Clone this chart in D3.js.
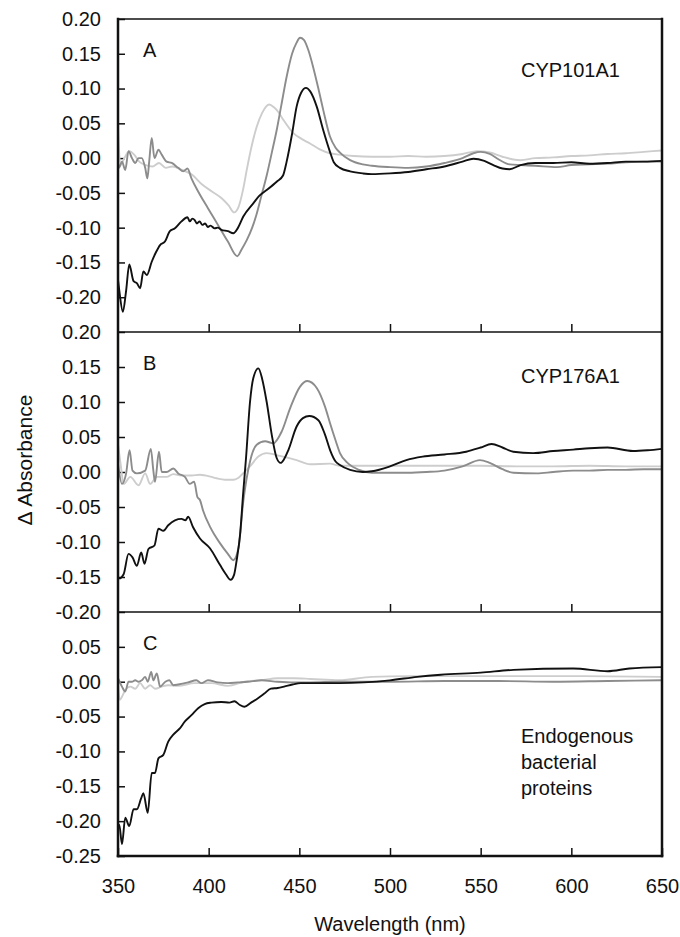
<!DOCTYPE html>
<html>
<head>
<meta charset="utf-8">
<script src="https://cdn.jsdelivr.net/npm/d3@7"></script>
<style>
  html, body { margin: 0; padding: 0; background: #fff; }
  svg { display: block; font-family: 'Liberation Sans', Arial, sans-serif; }
</style>
</head>
<body>
<svg id="chart" width="680" height="937"></svg>
<script>
// Wavelength (nm), delta absorbance pairs
const panelAblack = [
  [350, -0.175], [350.7, -0.190], [352.7, -0.221], [354.5, -0.190], [356.2, -0.153], [358.6, -0.177],
  [360.5, -0.180], [362.2, -0.187], [364, -0.163], [365.9, -0.168], [368.6, -0.149], [371, -0.135],
  [373.2, -0.125], [375.9, -0.120], [378.6, -0.105], [381.4, -0.101], [385, -0.091], [388.3, -0.085],
  [389.6, -0.091], [391, -0.087], [392.3, -0.089], [393.5, -0.094], [395, -0.091], [396.5, -0.096],
  [398, -0.094], [399.6, -0.099], [401, -0.097], [403.3, -0.101], [405, -0.100], [407, -0.103],
  [410.6, -0.105], [413.6, -0.108], [416, -0.101], [419.1, -0.084], [424.6, -0.065], [428, -0.054],
  [432, -0.046], [437.5, -0.034], [441, -0.025], [443, -0.005], [446, 0.035], [448.5, 0.074],
  [451, 0.094], [453.7, 0.101], [456, 0.096], [459.6, 0.074], [463.2, 0.040], [466.9, 0.009],
  [469, -0.006], [472.4, -0.014], [478, -0.019], [485, -0.022], [490, -0.023], [500, -0.022],
  [510, -0.020], [520, -0.016], [530, -0.012], [540, -0.005], [546, -0.001], [552, -0.004],
  [557, -0.010], [562, -0.015], [566, -0.016], [572, -0.010], [580, -0.007], [590, -0.007],
  [600, -0.006], [610, -0.008], [620, -0.007], [630, -0.005], [640, -0.005], [650, -0.004],
];
const panelAgray = [
  [350, -0.005], [350.5, -0.014], [352.2, -0.005], [354, -0.017], [355.8, 0.010], [357.7, 0.000],
  [359.5, -0.007], [361.3, 0.000], [363.1, 0.000], [365, -0.014], [366.2, -0.029], [367.2, -0.005],
  [368.6, 0.029], [370.1, 0.000], [372.3, 0.012], [374.1, 0.005], [376.8, -0.005], [379.6, -0.007],
  [383.2, -0.014], [386, -0.019], [388.3, -0.015], [390.5, -0.029], [394.2, -0.048], [399.6, -0.072],
  [405.1, -0.096], [410.6, -0.120], [415.8, -0.141], [418, -0.132], [421, -0.118], [424, -0.100],
  [426.5, -0.080], [429, -0.055], [432, -0.025], [435, 0.010], [437.5, 0.040], [440, 0.075],
  [443, 0.117], [446, 0.150], [448.5, 0.166], [450.4, 0.173], [452.5, 0.170], [455, 0.155],
  [457.7, 0.130], [460.5, 0.100], [463.2, 0.069], [466.9, 0.031], [470, 0.015], [472.4, 0.008],
  [478, -0.003], [485, -0.009], [490, -0.011], [500, -0.013], [510, -0.014], [520, -0.012],
  [530, -0.007], [540, 0.000], [546, 0.007], [550, 0.009], [555, 0.006], [560, -0.002],
  [566, -0.009], [572, -0.010], [580, -0.011], [592, -0.013], [600, -0.010], [610, -0.009],
  [620, -0.008], [630, -0.006], [640, -0.005], [650, -0.005],
];
const panelAlight = [
  [350, 0.045], [351.3, -0.010], [353.5, 0.000], [356.2, 0.010], [358.9, 0.005], [361.7, -0.005],
  [365.3, -0.010], [369, -0.012], [372.6, -0.007], [376.3, -0.014], [379.9, -0.012], [385.4, -0.017],
  [390.9, -0.024], [396.4, -0.038], [401.8, -0.048], [407.3, -0.058], [411, -0.068], [414, -0.078],
  [416.5, -0.070], [419, -0.045], [421, -0.017], [423.5, 0.015], [426.5, 0.045], [429.5, 0.065],
  [433.4, 0.077], [436, 0.073], [438.5, 0.066], [441.2, 0.055], [446.7, 0.036], [451, 0.028],
  [455.9, 0.021], [461, 0.013], [466.9, 0.007], [472, 0.005], [480, 0.003], [490, 0.002],
  [500, 0.002], [510, 0.003], [520, 0.002], [530, 0.003], [540, 0.006], [548, 0.010],
  [555, 0.008], [562, 0.002], [568, -0.002], [572, -0.003], [580, 0.000], [590, 0.001],
  [600, 0.003], [610, 0.004], [620, 0.006], [630, 0.007], [640, 0.009], [650, 0.011],
];

const panelBblack = [
  [350, -0.150], [350.7, -0.152], [353.1, -0.146], [355.8, -0.117], [358, -0.122], [360.4, -0.134],
  [362.8, -0.115], [364.6, -0.131], [366.8, -0.110], [370.1, -0.105], [372.3, -0.081], [375, -0.084],
  [377.7, -0.076], [381.4, -0.069], [385, -0.067], [387.2, -0.069], [388.7, -0.064], [391.4, -0.079],
  [395.2, -0.095], [400.7, -0.109], [406.3, -0.133], [409.5, -0.146], [412.1, -0.154], [414, -0.147],
  [415.5, -0.125], [417.3, -0.090], [419.1, -0.028], [420.6, 0.020], [422.8, 0.100], [424.6, 0.134],
  [427.4, 0.148], [429.5, 0.133], [432, 0.100], [434.8, 0.053], [437.5, 0.020], [439.7, 0.013],
  [441.5, 0.018], [443.9, 0.031], [448.5, 0.065], [452, 0.077], [455.5, 0.080], [460.5, 0.074],
  [464.2, 0.053], [467, 0.031], [470, 0.015], [472.4, 0.010], [478, 0.003], [485, 0.000],
  [490, 0.001], [500, 0.008], [509, 0.017], [518, 0.022], [530, 0.025], [542, 0.029],
  [550, 0.035], [556, 0.040], [562, 0.035], [568, 0.029], [579, 0.027], [590, 0.030],
  [601, 0.032], [610, 0.034], [620, 0.035], [634, 0.030], [642, 0.031], [650, 0.033],
];
const panelBgray = [
  [350, 0.012], [352.2, -0.017], [354.4, -0.003], [356.4, 0.031], [358, 0.002], [360.4, -0.002],
  [365, 0.002], [368.1, 0.033], [369.5, 0.002], [370.4, -0.014], [372.6, 0.029], [374.1, 0.000],
  [376.8, 0.000], [380.5, 0.005], [383.2, -0.002], [386.9, -0.007], [389.6, -0.017], [392, -0.014],
  [393.8, -0.036], [395.2, -0.040], [396.9, -0.055], [400.7, -0.078], [403.3, -0.090], [406.3, -0.102],
  [410.6, -0.117], [413.6, -0.126], [416.4, -0.109], [419.1, -0.042], [422.8, 0.015], [426.5, 0.039],
  [431.1, 0.044], [435.6, 0.041], [440.3, 0.058], [444.9, 0.091], [450.4, 0.122], [454.4, 0.130],
  [459.6, 0.120], [464.2, 0.093], [466.9, 0.070], [470, 0.045], [472.4, 0.027], [477, 0.012],
  [483, 0.003], [490, -0.001], [500, -0.001], [510, -0.001], [520, 0.000], [530, 0.002],
  [540, 0.008], [549.6, 0.017], [555, 0.013], [562, 0.004], [568, -0.001], [581, -0.002],
  [590, 0.000], [601, 0.002], [610, 0.002], [620, 0.003], [630, 0.003], [640, 0.004], [650, 0.004],
];
const panelBlight = [
  [350, 0.040], [351.5, 0.010], [353.1, -0.017], [356.8, -0.007], [361.3, -0.019], [365, -0.002],
  [367.7, -0.017], [371.4, -0.007], [374.1, -0.007], [376.8, -0.007], [380.5, -0.003], [385, -0.005],
  [390.5, -0.005], [395.2, -0.004], [401.5, -0.007], [404.4, -0.009], [409, -0.011], [413.6, -0.011],
  [416, -0.009], [418.2, -0.004], [422.8, 0.008], [427.4, 0.022], [432, 0.027], [439.3, 0.023],
  [448.5, 0.017], [455.9, 0.011], [466.9, 0.012], [472, 0.009], [490, 0.009], [510, 0.009],
  [530, 0.009], [550, 0.009], [570, 0.008], [590, 0.008], [610, 0.009], [630, 0.008], [650, 0.008],
];

const panelCblack = [
  [350, -0.205], [350.7, -0.205], [352.2, -0.233], [354, -0.195], [356.2, -0.207], [358.6, -0.183],
  [360.4, -0.183], [362.8, -0.167], [364, -0.160], [366.4, -0.188], [368.6, -0.131], [370.4, -0.131],
  [372.3, -0.110], [375, -0.105], [377.7, -0.086], [380.5, -0.076], [384.1, -0.067], [386.9, -0.057],
  [390.5, -0.048], [394.2, -0.038], [397.8, -0.032], [401.5, -0.030], [406.9, -0.029], [411.5, -0.030],
  [414.2, -0.028], [417, -0.033], [419.7, -0.036], [423.4, -0.030], [427, -0.024], [430.7, -0.017],
  [434.3, -0.010], [438, -0.009], [441.6, -0.007], [446.2, -0.004], [450.7, -0.002], [456.2, -0.002],
  [472, -0.002], [500, 0.002], [515, 0.007], [528, 0.010], [550, 0.013], [568, 0.017],
  [601, 0.019], [620, 0.015], [632, 0.019], [650, 0.021],
];
const panelCgray = [
  [350, 0.005], [352.2, -0.007], [354, -0.014], [355.8, 0.000], [357.7, 0.000], [359.5, 0.002],
  [361.3, 0.000], [363.1, 0.002], [365, 0.007], [366.4, 0.000], [368.3, 0.014], [369.5, 0.002],
  [371.4, 0.012], [373.2, -0.007], [376.1, 0.000], [378.3, 0.002], [380.5, -0.005], [383.2, -0.004],
  [388.7, -0.001], [393.2, 0.002], [396, -0.002], [399.6, 0.002], [405.1, -0.001], [410.6, -0.002],
  [416, -0.001], [421.5, 0.000], [429, 0.002], [438, 0.000], [447, -0.001], [456, -0.001],
  [472, 0.000], [500, 0.000], [530, 0.001], [560, 0.001], [590, 0.000], [620, 0.001], [650, 0.002],
];
const panelClight = [
  [350, -0.002], [351, -0.026], [352.5, -0.020], [354, -0.012], [356.8, -0.007], [359.5, -0.010],
  [362.2, -0.002], [365, -0.010], [367.7, -0.005], [370.4, -0.010], [374.1, -0.007], [377.7, -0.005],
  [383.2, -0.006], [392.3, -0.002], [401.5, -0.002], [410.6, -0.006], [419.7, 0.000], [428.8, 0.002],
  [438, 0.005], [447, 0.005], [456.2, 0.004], [472, 0.002], [490, 0.007], [510, 0.008],
  [550, 0.008], [600, 0.008], [650, 0.007],
];

// Axis settings
const xDomain = [350, 650];
const xTicks = [350, 400, 450, 500, 550, 600, 650];
const yTicksA = [0.20, 0.15, 0.10, 0.05, 0.00, -0.05, -0.10, -0.15, -0.20];
const yTicksB = [0.20, 0.15, 0.10, 0.05, 0.00, -0.05, -0.10, -0.15, -0.20];
const yTicksC = [0.05, 0.00, -0.05, -0.10, -0.15, -0.20, -0.25];

const svg = d3.select('#chart');
const font = 20;

const x = d3.scaleLinear().domain(xDomain).range([118, 662]);

// Panels stacked top to bottom, each with its own y range
const panels = [
  { letter: 'A', label: ['CYP101A1'], domain: [-0.25, 0.20], range: [332, 19], ticks: yTicksA,
    series: [panelAlight, panelAgray, panelAblack], labelY: 77 },
  { letter: 'B', label: ['CYP176A1'], domain: [-0.20, 0.20], range: [612, 332], ticks: yTicksB,
    series: [panelBlight, panelBgray, panelBblack], labelY: 383 },
  { letter: 'C', label: ['Endogenous', 'bacterial', 'proteins'], domain: [-0.25, 0.10], range: [856, 612],
    ticks: yTicksC, series: [panelClight, panelCgray, panelCblack], labelY: 743 },
];

const colors = ['#cdcdcd', '#8c8c8c', '#111111'];

panels.forEach((p, i) => {
  const y = d3.scaleLinear().domain(p.domain).range(p.range);
  const g = svg.append('g').attr('class', `panel-${p.letter}`);

  // y axis, ticks pointing in
  const yAxis = g.append('g')
    .attr('transform', `translate(${x(xDomain[0])},0)`)
    .call(d3.axisLeft(y).tickValues(p.ticks).tickSizeInner(-7).tickSizeOuter(0)
      .tickPadding(17).tickFormat((d) => d.toFixed(2)));
  yAxis.select('.domain').remove();
  yAxis.selectAll('line').attr('stroke', '#111').attr('stroke-width', 1.5);
  yAxis.selectAll('text').attr('font-size', font).attr('fill', '#111')
    .attr('font-family', "'Liberation Sans', Arial, sans-serif");

  // x axis on the bottom of every panel, labels only on the last
  const last = i === panels.length - 1;
  const xAxis = g.append('g')
    .attr('transform', `translate(0,${y(p.domain[0])})`)
    .call(d3.axisBottom(x).tickValues(last ? xTicks : xTicks.slice(1, -1))
      .tickSizeInner(-8).tickSizeOuter(0).tickPadding(23)
      .tickFormat(last ? d3.format('d') : ''));
  xAxis.select('.domain').remove();
  xAxis.selectAll('line').attr('stroke', '#111').attr('stroke-width', 1.5);
  xAxis.selectAll('text').attr('font-size', font).attr('fill', '#111')
    .attr('font-family', "'Liberation Sans', Arial, sans-serif");

  // spectra
  const line = d3.line()
    .x((d) => x(d[0]))
    .y((d) => y(d[1]))
    .curve(d3.curveMonotoneX);

  g.append('g')
    .attr('fill', 'none')
    .selectAll('path')
    .data(p.series)
    .join('path')
    .attr('d', line)
    .attr('stroke', (d, j) => colors[j])
    .attr('stroke-width', 1.9)
    .attr('stroke-linejoin', 'round');

  // horizontal frame line on top of the panel
  g.append('line')
    .attr('x1', x(xDomain[0])).attr('x2', x(xDomain[1]))
    .attr('y1', y(p.domain[1])).attr('y2', y(p.domain[1]))
    .attr('stroke', '#111').attr('stroke-width', 1.6);

  // panel letter and name
  g.append('text')
    .attr('x', 143).attr('y', y(p.domain[1]) + 38)
    .attr('font-size', font).attr('fill', '#111')
    .text(p.letter);

  g.append('text')
    .attr('font-size', font).attr('fill', '#111')
    .selectAll('tspan')
    .data(p.label)
    .join('tspan')
    .attr('x', 521)
    .attr('y', (d, j) => p.labelY + j * 26)
    .text((d) => d);
});

// outer frame: thicker left, right and bottom sides
const yTop = panels[0].range[1];
const yBottom = panels[panels.length - 1].range[0];
[[x(xDomain[0]), yTop, x(xDomain[0]), yBottom],
  [x(xDomain[1]), yTop, x(xDomain[1]), yBottom],
  [x(xDomain[0]), yBottom, x(xDomain[1]), yBottom]]
  .forEach(([x1, y1, x2, y2]) => {
    svg.append('line')
      .attr('x1', x1).attr('y1', y1).attr('x2', x2).attr('y2', y2)
      .attr('stroke', '#111').attr('stroke-width', 2.5)
      .attr('stroke-linecap', 'square');
  });

// axis titles
svg.append('text')
  .attr('x', (x(xDomain[0]) + x(xDomain[1])) / 2)
  .attr('y', 931)
  .attr('text-anchor', 'middle')
  .attr('font-size', font).attr('fill', '#111')
  .text('Wavelength (nm)');

svg.append('text')
  .attr('transform', 'translate(32,460) rotate(-90)')
  .attr('text-anchor', 'middle')
  .attr('font-size', font + 1).attr('fill', '#111')
  .text('Δ Absorbance');
</script>
</body>
</html>
